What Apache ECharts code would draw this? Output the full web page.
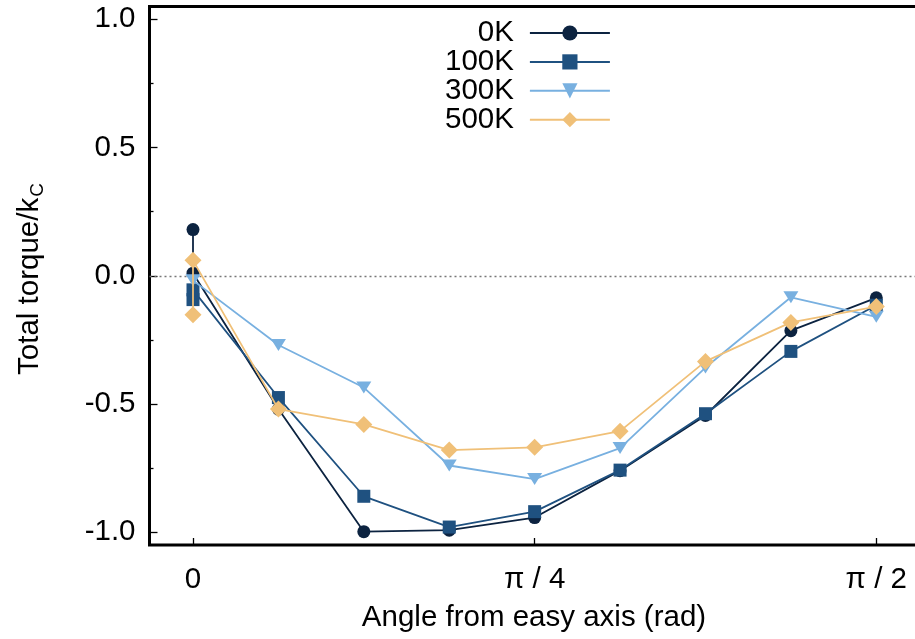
<!DOCTYPE html>
<html>
<head>
<meta charset="utf-8">
<script src="https://cdn.jsdelivr.net/npm/echarts@6/dist/echarts.min.js"></script>
<style>
  html, body { margin: 0; padding: 0; background: #fff; }
  #chart { width: 915px; height: 639px; }
</style>
</head>
<body>
<div id="chart"></div>
<script>
// Angles in units of pi (angle 0 was measured twice for some temperatures)
const angles0K   = [0, 0, 1/16, 2/16, 3/16, 4/16, 5/16, 6/16, 7/16, 8/16];
const torque0K   = [0.18, 0.01, -0.52, -0.998, -0.992, -0.943, -0.76, -0.545, -0.214, -0.086];

const angles100K = [0, 0, 1/16, 2/16, 3/16, 4/16, 5/16, 6/16, 7/16, 8/16];
const torque100K = [-0.093, -0.055, -0.475, -0.86, -0.98, -0.92, -0.758, -0.538, -0.295, -0.115];

const angles300K = [0, 1/16, 2/16, 3/16, 4/16, 5/16, 6/16, 7/16, 8/16];
const torque300K = [-0.018, -0.27, -0.436, -0.74, -0.793, -0.672, -0.358, -0.084, -0.16];

const angles500K = [0, 0, 1/16, 2/16, 3/16, 4/16, 5/16, 6/16, 7/16, 8/16];
const torque500K = [-0.152, 0.06, -0.52, -0.58, -0.68, -0.669, -0.606, -0.334, -0.182, -0.12];

const seriesNames = ['0K', '100K', '300K', '500K'];
const xTickValues = [0, Math.PI / 4, Math.PI / 2];
const xTickLabels = ['0', 'π / 4', 'π / 2'];
const yTickValues = [-1.0, -0.5, 0.0, 0.5, 1.0];
const yMinorTicks = [-0.75, -0.25, 0.25, 0.75];

const FONT = '"Liberation Sans", Arial, Helvetica, sans-serif';
const FS = 29.5;

function pairs(anglesPi, values) {
  return anglesPi.map((a, i) => [a * Math.PI, values[i]]);
}

const styles = [
  { color: '#0c2340', symbol: 'circle',  size: 13,       rotate: 0 },
  { color: '#1f5180', symbol: 'rect',    size: 13,       rotate: 0 },
  { color: '#78b0e0', symbol: 'triangle', size: [15, 12], rotate: 180 },
  { color: '#f0c078', symbol: 'diamond', size: [17, 17], rotate: 0 }
];
const dataSets = [
  pairs(angles0K, torque0K),
  pairs(angles100K, torque100K),
  pairs(angles300K, torque300K),
  pairs(angles500K, torque500K)
];

const series = seriesNames.map((name, i) => ({
  name: name,
  type: 'line',
  data: dataSets[i],
  symbol: styles[i].symbol,
  symbolSize: styles[i].size,
  symbolRotate: styles[i].rotate,
  showAllSymbol: true,
  lineStyle: { color: styles[i].color, width: 1.8 },
  itemStyle: { color: styles[i].color, borderWidth: 0 },
  animation: false,
  silent: true,
  z: 3 + i
}));

// dotted zero reference line
series[0].markLine = {
  silent: true,
  symbol: 'none',
  label: { show: false },
  lineStyle: { color: '#777', type: [2, 3], width: 1.3 },
  data: [{ yAxis: 0 }],
  z: 1
};

const chart = echarts.init(document.getElementById('chart'), null, { renderer: 'canvas' });
chart.setOption({
  backgroundColor: '#fff',
  animation: false,
  grid: {
    left: 149.5, top: 6.5, right: -17.5, bottom: 94,
    show: true, borderColor: '#000', borderWidth: 3,
    outerBoundsMode: 'none', containLabel: false
  },
  legend: {
    data: seriesNames,
    orient: 'vertical',
    left: 440, top: 13,
    align: 'right',
    itemWidth: 80, itemHeight: 19, itemGap: -1.1,
    textStyle: {
      fontFamily: FONT, fontSize: FS, color: '#000',
      width: 72, align: 'right',
      padding: [0, 11, 0, 0]
    },
    selectedMode: false
  },
  xAxis: {
    type: 'value',
    min: -0.1, max: 1.7,
    axisLine: { show: false, onZero: false },
    splitLine: { show: false },
    axisTick: { show: true, inside: true, length: 7, customValues: xTickValues,
                lineStyle: { color: '#000', width: 1.3 } },
    axisLabel: { show: true, customValues: xTickValues, margin: 20,
                 fontFamily: FONT, fontSize: FS, color: '#000',
                 formatter: v => {
                   const k = xTickValues.findIndex(t => Math.abs(t - v) < 1e-9);
                   return k >= 0 ? xTickLabels[k] : '';
                 } }
  },
  yAxis: [{
    type: 'value',
    min: -1.05, max: 1.05,
    axisLine: { show: false, onZero: false },
    splitLine: { show: false },
    axisTick: { show: true, inside: true, length: 8, customValues: yTickValues,
                lineStyle: { color: '#000', width: 1.3 } },
    axisLabel: { show: true, customValues: yTickValues, margin: 14,
                 fontFamily: FONT, fontSize: FS, color: '#000',
                 formatter: v => v.toFixed(1) }
  }, {
    type: 'value',
    position: 'left',
    min: -1.05, max: 1.05,
    axisLine: { show: false, onZero: false },
    splitLine: { show: false },
    axisLabel: { show: false },
    axisTick: { show: true, inside: true, length: 4, customValues: yMinorTicks,
                lineStyle: { color: '#000', width: 1.3 } }
  }],
  graphic: [{
    type: 'text',
    x: 534, y: 618,
    style: { text: 'Angle from easy axis (rad)', font: FS + 'px ' + FONT,
             fill: '#000', align: 'center', verticalAlign: 'middle' }
  }, {
    type: 'text',
    x: 30, y: 279,
    rotation: Math.PI / 2,
    style: {
      text: '{a|Total torque/k}{b|C}',
      align: 'center', verticalAlign: 'middle',
      rich: {
        a: { fontFamily: FONT, fontSize: FS, fill: '#000', color: '#000' },
        b: { fontFamily: FONT, fontSize: 19, fill: '#000', color: '#000', padding: [16, 0, 0, 1] }
      }
    }
  }],
  series: series
});
</script>
</body>
</html>
